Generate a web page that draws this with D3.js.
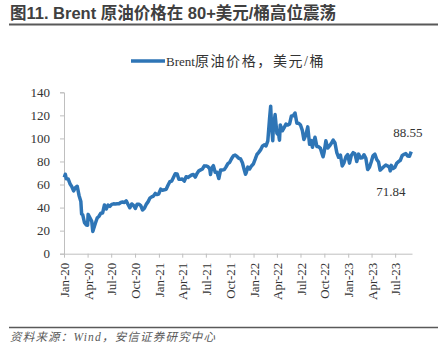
<!DOCTYPE html>
<html>
<head>
<meta charset="utf-8">
<script src="https://cdn.jsdelivr.net/npm/d3@7"></script>
<style>
  body { margin: 0; background: #fff; }
  svg { display: block; }
</style>
</head>
<body>
<div id="chart-area"></div>
<script>
'use strict';

const titleText = '图11. Brent 原油价格在 80+美元/桶高位震荡';
const seriesLatin = 'Brent';
const seriesCjk = '原油价格，美元/桶';
const sourceText = '资料来源：Wind，安信证券研究中心';

const dates = [
    '2020-01-02','2020-01-06','2020-01-10','2020-01-17','2020-01-24','2020-01-31','2020-02-07','2020-02-14','2020-02-21','2020-02-28',
    '2020-03-06','2020-03-09','2020-03-13','2020-03-20','2020-03-27','2020-04-01','2020-04-03','2020-04-09','2020-04-17','2020-04-21',
    '2020-04-24','2020-05-01','2020-05-08','2020-05-15','2020-05-22','2020-05-29','2020-06-05','2020-06-12','2020-06-19','2020-06-26',
    '2020-07-03','2020-07-10','2020-07-17','2020-07-24','2020-07-31','2020-08-07','2020-08-14','2020-08-21','2020-08-28','2020-09-04',
    '2020-09-11','2020-09-18','2020-09-25','2020-10-02','2020-10-09','2020-10-16','2020-10-23','2020-10-30','2020-11-06','2020-11-13',
    '2020-11-20','2020-11-27','2020-12-04','2020-12-11','2020-12-18','2020-12-24','2020-12-31',
    '2021-01-08','2021-01-15','2021-01-22','2021-01-29','2021-02-05','2021-02-12','2021-02-19','2021-02-26','2021-03-05','2021-03-12',
    '2021-03-19','2021-03-26','2021-04-01','2021-04-09','2021-04-16','2021-04-23','2021-04-30','2021-05-07','2021-05-14','2021-05-21',
    '2021-05-28','2021-06-04','2021-06-11','2021-06-18','2021-06-25','2021-07-02','2021-07-09','2021-07-16','2021-07-19','2021-07-23',
    '2021-07-30','2021-08-06','2021-08-13','2021-08-20','2021-08-27','2021-09-03','2021-09-10','2021-09-17','2021-09-24','2021-10-01',
    '2021-10-08','2021-10-15','2021-10-22','2021-10-29','2021-11-05','2021-11-12','2021-11-19','2021-11-26','2021-12-01','2021-12-03',
    '2021-12-10','2021-12-17','2021-12-24','2021-12-31',
    '2022-01-07','2022-01-14','2022-01-21','2022-01-28','2022-02-04','2022-02-11','2022-02-18','2022-02-25','2022-03-04','2022-03-08',
    '2022-03-11','2022-03-16','2022-03-18','2022-03-25','2022-04-01','2022-04-08','2022-04-11','2022-04-14','2022-04-22','2022-04-29',
    '2022-05-06','2022-05-13','2022-05-20','2022-05-27','2022-06-03','2022-06-10','2022-06-17','2022-06-24','2022-07-01','2022-07-08',
    '2022-07-14','2022-07-22','2022-07-29','2022-08-05','2022-08-12','2022-08-16','2022-08-26','2022-09-02','2022-09-09','2022-09-16',
    '2022-09-23','2022-09-26','2022-09-30','2022-10-07','2022-10-14','2022-10-21','2022-10-28','2022-11-04','2022-11-11','2022-11-18',
    '2022-11-25','2022-12-02','2022-12-09','2022-12-16','2022-12-23','2022-12-30',
    '2023-01-06','2023-01-13','2023-01-20','2023-01-27','2023-02-03','2023-02-10','2023-02-17','2023-02-24','2023-03-03','2023-03-10',
    '2023-03-17','2023-03-24','2023-03-31','2023-04-07','2023-04-14','2023-04-21','2023-04-28','2023-05-04','2023-05-12','2023-05-19',
    '2023-05-26','2023-06-02','2023-06-09','2023-06-12','2023-06-16','2023-06-23','2023-06-30','2023-07-07','2023-07-14','2023-07-21',
    '2023-07-28','2023-08-04','2023-08-11','2023-08-18','2023-08-25','2023-09-01'
];

const prices = [
    66.25, 68.91, 64.98, 64.85, 60.69, 58.16, 54.47, 57.32, 58.50, 50.52,
    45.27, 34.36, 33.85, 26.98, 24.93, 24.74, 34.11, 31.48, 28.08, 19.33,
    21.44, 26.44, 30.97, 32.50, 35.13, 35.33, 42.30, 38.73, 42.19, 41.02,
    42.80, 43.24, 43.14, 43.34, 43.30, 44.40, 44.80, 44.35, 45.81, 42.66,
    39.83, 43.15, 41.92, 39.27, 42.85, 42.93, 41.77, 37.94, 39.45, 42.78,
    44.96, 48.18, 49.25, 50.00, 52.26, 51.29, 51.80,
    55.99, 55.10, 55.41, 55.88, 59.34, 62.43, 62.91, 66.13, 69.36, 69.22,
    64.53, 64.57, 64.86, 62.95, 66.77, 66.11, 67.25, 68.28, 68.71, 66.44,
    69.63, 71.89, 72.69, 73.51, 76.18, 76.17, 75.55, 73.59, 68.62, 74.10,
    76.33, 70.70, 70.59, 65.18, 72.70, 72.61, 72.92, 75.34, 78.09, 79.28,
    82.39, 84.86, 85.53, 84.38, 82.74, 82.17, 78.89, 72.72, 68.87, 69.88,
    75.15, 73.52, 76.14, 77.78,
    81.75, 86.06, 87.89, 90.03, 93.27, 94.44, 93.54, 97.93, 118.11, 127.98,
    112.67, 98.02, 107.93, 120.65, 104.39, 102.78, 98.48, 111.70, 106.65, 109.34,
    112.39, 111.55, 112.55, 119.43, 119.72, 122.01, 113.12, 113.12, 111.63, 107.02,
    99.10, 103.20, 110.01, 94.92, 98.15, 92.34, 100.99, 93.02, 92.84, 91.35,
    86.15, 84.06, 87.96, 97.92, 91.63, 93.50, 95.77, 98.57, 95.99, 87.62,
    83.63, 85.57, 76.10, 79.04, 83.92, 85.91,
    78.57, 85.28, 87.63, 86.66, 79.94, 86.39, 83.00, 83.16, 85.83, 82.78,
    72.97, 74.99, 79.77, 85.12, 86.31, 81.66, 79.54, 72.50, 74.17, 75.58,
    76.95, 76.13, 74.79, 71.84, 76.61, 73.85, 74.90, 78.47, 79.87, 81.07,
    84.99, 86.24, 86.81, 84.80, 84.48, 88.55
];

const yTicks = [0, 20, 40, 60, 80, 100, 120, 140];
const xTickDates = ['2020-01-01','2020-04-01','2020-07-01','2020-10-01','2021-01-01','2021-04-01','2021-07-01','2021-10-01',
    '2022-01-01','2022-04-01','2022-07-01','2022-10-01','2023-01-01','2023-04-01','2023-07-01'];
const annotations = [
    { date: '2023-09-01', value: 88.55, label: '88.55' },
    { date: '2023-06-12', value: 71.84, label: '71.84' }
];

const parse = d3.timeParse('%Y-%m-%d');
const fmt = d3.timeFormat('%b-%y');
const data = dates.map((d, i) => ({ date: parse(d), value: prices[i] }));

draw();

function draw() {
    const W = 447, H = 358;
    const svg = d3.select('#chart-area').append('svg')
        .attr('width', W)
        .attr('height', H);

    const serif = '"Liberation Serif", "Times New Roman", "Noto Sans CJK SC", serif';

    // title + rule
    svg.append('text')
        .attr('x', 10).attr('y', 19)
        .attr('font-family', '"Liberation Sans", Arial, "Noto Sans CJK SC", sans-serif')
        .attr('font-weight', 'bold')
        .attr('font-size', 16.5)
        .attr('fill', '#404040')
        .text(titleText);
    svg.append('line')
        .attr('x1', 9).attr('x2', 438).attr('y1', 24.5).attr('y2', 24.5)
        .attr('stroke', '#595959').attr('stroke-width', 2);

    let x = d3.scaleTime()
        .domain([parse('2020-01-01'), parse('2023-09-04')])
        .range([64, 412]);

    let y = d3.scaleLinear()
        .domain([0, 140])
        .range([253.7, 92.3]);

    // y axis
    const yAxis = svg.append('g')
        .attr('transform', 'translate(64,0)')
        .call(d3.axisLeft(y).tickValues(yTicks).tickSize(4).tickPadding(10));
    yAxis.select('.domain').attr('stroke', '#bfbfbf');
    yAxis.selectAll('.tick line').attr('stroke', '#bfbfbf');
    yAxis.selectAll('text')
        .attr('font-family', serif)
        .attr('font-size', 13)
        .attr('fill', '#333');

    // x axis
    const xAxis = svg.append('g')
        .attr('transform', 'translate(0,253.7)')
        .call(d3.axisBottom(x).tickValues(xTickDates.map(parse)).tickFormat(fmt).tickSize(4).tickSizeOuter(0));
    xAxis.select('.domain').attr('stroke', '#bfbfbf');
    xAxis.selectAll('.tick line').attr('stroke', '#bfbfbf');
    xAxis.selectAll('text')
        .attr('font-family', serif)
        .attr('font-size', 13)
        .attr('fill', '#333')
        .attr('text-anchor', 'end')
        .attr('transform', 'rotate(-90)')
        .attr('x', -9)
        .attr('y', 0)
        .attr('dy', '0.35em');

    // line
    const line = d3.line()
        .x(d => x(d.date))
        .y(d => y(d.value));
    svg.append('path')
        .datum(data)
        .attr('fill', 'none')
        .attr('stroke', '#2e75b6')
        .attr('stroke-width', 3.5)
        .attr('stroke-linejoin', 'round')
        .attr('d', line);

    // annotations
    svg.append('text')
        .attr('x', x(parse(annotations[0].date)) - 18)
        .attr('y', y(annotations[0].value) - 15)
        .attr('font-family', serif).attr('font-size', 13).attr('fill', '#333')
        .text(annotations[0].label);
    svg.append('text')
        .attr('x', x(parse(annotations[1].date)) - 14)
        .attr('y', y(annotations[1].value) + 25)
        .attr('font-family', serif).attr('font-size', 13).attr('fill', '#333')
        .text(annotations[1].label);

    // legend
    svg.append('line')
        .attr('x1', 131).attr('x2', 165).attr('y1', 61).attr('y2', 61)
        .attr('stroke', '#2e75b6').attr('stroke-width', 3.5);
    const leg = svg.append('text')
        .attr('x', 166).attr('y', 65.5)
        .attr('font-family', serif).attr('font-size', 13).attr('fill', '#333');
    leg.append('tspan').text(seriesLatin);
    leg.append('tspan')
        .attr('font-size', 14)
        .attr('letter-spacing', 1.6)
        .text(seriesCjk);

    // source
    svg.append('line')
        .attr('x1', 9).attr('x2', 438).attr('y1', 327.5).attr('y2', 327.5)
        .attr('stroke', '#595959').attr('stroke-width', 1.5);
    svg.append('text')
        .attr('x', 10).attr('y', 341)
        .attr('font-family', serif)
        .attr('font-style', 'italic')
        .attr('font-size', 11.5)
        .attr('letter-spacing', 1.2)
        .attr('fill', '#595959')
        .text(sourceText);
}
</script>
</body>
</html>
